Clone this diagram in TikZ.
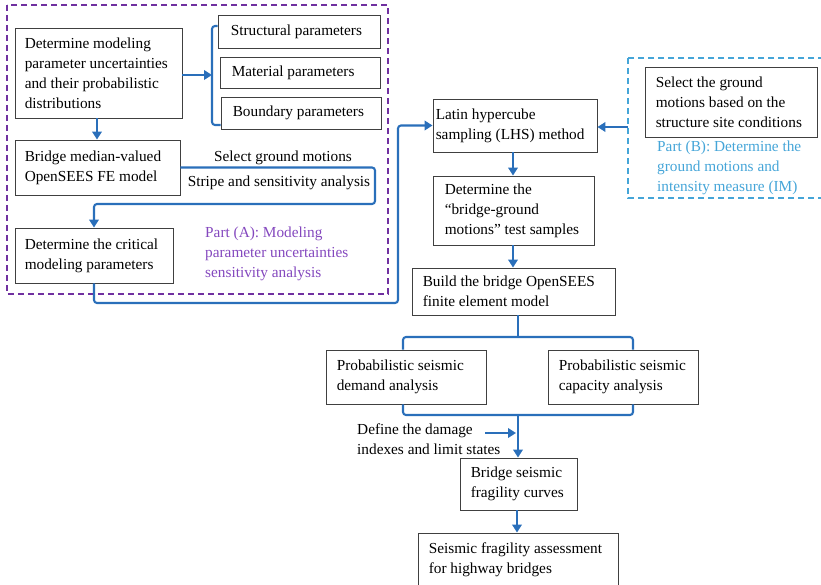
\documentclass[tikz,border=0pt]{standalone}
\usepackage{fontspec}
\setmainfont{Liberation Serif}
\usetikzlibrary{arrows.meta}
\definecolor{conn}{HTML}{2A6FBA}
\definecolor{purp}{HTML}{7030A0}
\definecolor{purptext}{HTML}{8448BE}
\definecolor{lblue}{HTML}{45A5D8}
\tikzset{
  txt/.style={font=\fontsize{15.3}{20}\selectfont},
  box/.style={draw=black!75, line width=0.9pt, inner sep=0pt, anchor=center},
  lbl/.style={inner sep=0pt, align=left, txt},
  cline/.style={draw=conn, line width=2.1pt, rounded corners=3pt},
  carrow/.style={cline, -{Triangle[length=8pt,width=9.5pt]}},
}
% name, cx, cy, width, height, text offset, text
\newcommand\mybox[7]{%
  \node[box, minimum width=#4pt, minimum height=#5pt] (#1) at (#2,#3) {};
  \node[lbl, anchor=west] (#1t) at ([xshift=#6pt]#1.west) {#7};}
\begin{document}
\begin{tikzpicture}[x=1pt,y=-1pt]
\useasboundingbox (0,0) rectangle (821,585);
% dashed groups
\draw[purp, line width=1.8pt, dash pattern=on 6pt off 4pt] (7,5) rectangle (388,294);
\draw[lblue, line width=1.8pt, dash pattern=on 6pt off 4pt] (628,58) rectangle (826,198);
% boxes
\mybox{A}{98.5}{73}{167}{90}{10}{Determine modeling\\parameter uncertainties\\and their probabilistic\\distributions}
\mybox{S}{299}{31.5}{162}{33}{13}{Structural parameters}
\mybox{M}{300}{72.5}{160}{31}{12}{Material parameters}
\mybox{Bd}{301}{113}{160}{32}{12}{Boundary parameters}
\mybox{B}{97.5}{167.5}{165}{55}{10}{Bridge median-valued\\OpenSEES FE model}
\mybox{C}{94}{255.5}{158}{55}{10}{Determine the critical\\modeling parameters}
\mybox{L}{515}{125.5}{164}{53}{3}{Latin hypercube\\sampling (LHS) method}
\mybox{D}{513.5}{210.5}{161}{69}{12}{Determine the\\``bridge-ground\\motions'' test samples}
\mybox{F}{513.5}{291.5}{203}{47}{11}{Build the bridge OpenSEES\\finite element model}
\mybox{G}{731}{102}{172}{70}{11}{Select the ground\\motions based on the\\structure site conditions}
\mybox{PD}{406}{377}{160}{54}{11}{Probabilistic seismic\\demand analysis}
\mybox{PC}{623}{377}{150}{54}{11}{Probabilistic seismic\\capacity analysis}
\mybox{BF}{518.5}{484}{117}{52}{11}{Bridge seismic\\fragility curves}
\mybox{SF}{518}{560}{200}{54}{11}{Seismic fragility assessment\\for highway bridges}
% labels
\node[lbl, anchor=center] (sg) at (283,158) {Select ground motions};
\node[lbl, anchor=center] (st) at (279,183) {Stripe and sensitivity analysis};
\node[lbl, anchor=base west, text=purptext] (pa) at (205,277) {Part (A): Modeling\\parameter uncertainties\\sensitivity analysis};
\node[lbl, anchor=base west, text=lblue] (pb) at (657,192) {Part (B): Determine the\\ground motions and\\intensity measure (IM)};
\node[lbl, anchor=base west] (dd) at (357,454) {Define the damage\\indexes and limit states};
% connectors
\coordinate (brk) at (212,75);
\draw[carrow] (A.east |- brk) -- (brk);
\draw[cline] (S.west |- 0,26) -- (212,26) -- (212,125) -- (Bd.west |- 0,125);
\draw[carrow] (A.south -| 97,0) -- (B.north -| 97,0);
\draw[carrow] (B.east) -| (375,204) -| (C.north);
\draw[carrow] (C.south) |- (398,303) |- (L.west);
\coordinate (pbw) at (628,127);
\draw[carrow] (pbw) -- (L.east |- pbw);
\draw[carrow] (L.south -| 513,0) -- (D.north -| 513,0);
\draw[carrow] (D.south -| 513,0) -- (F.north -| 513,0);
\coordinate (sp) at (518,337);
\draw[cline] (F.south -| sp) -- (sp);
\draw[cline] (PD.north -| 403,0) |- (sp) -| (PC.north -| 633,0);
\coordinate (mg) at (518,415);
\draw[cline] (PD.south -| 403,0) |- (mg) -| (PC.south -| 633,0);
\draw[carrow] (mg) -- (BF.north -| mg);
\coordinate (dda) at (485,433);
\draw[carrow] (dda) -- (516,433);
\draw[carrow] (BF.south -| 517,0) -- (SF.north -| 517,0);
\end{tikzpicture}
\end{document}
